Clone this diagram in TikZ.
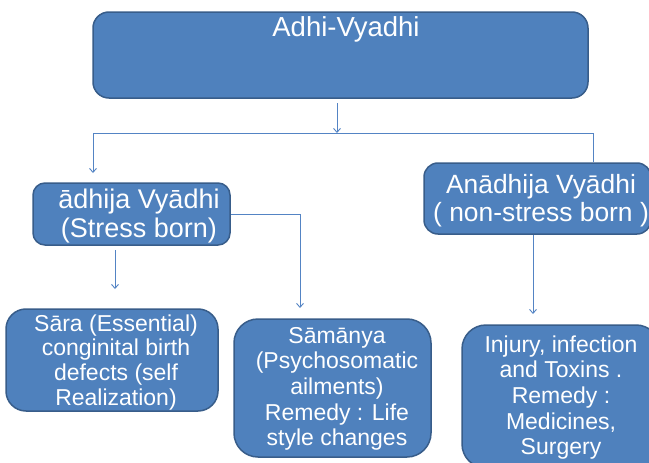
\documentclass[tikz,border=0pt]{standalone}
\usepackage{fontspec}
\setmainfont{Liberation Sans}
\usetikzlibrary{arrows.meta}
\definecolor{boxfill}{RGB}{79,129,189}
\definecolor{boxdraw}{RGB}{56,93,138}
\definecolor{linec}{RGB}{84,132,196}
\begin{document}
\begin{tikzpicture}[x=1pt,y=-1pt,
  box/.style={draw=boxdraw, line width=1.5pt, fill=boxfill, inner sep=0pt},
  txt/.style={text=white, align=center, inner sep=0pt, anchor=north},
  conn/.style={draw=linec, line width=0.9pt},
  arr/.style={conn, -{Straight Barb[length=4pt,width=7pt]}}]
\clip (0,0) rectangle (649,463);
\fill[white] (0,0) rectangle (649,463);
% boxes
\node[box, rounded corners=16pt, minimum width=495pt, minimum height=86pt] (top) at (340.5,55) {};
\node[box, rounded corners=12pt, minimum width=197pt, minimum height=62pt] (adh) at (131.5,214) {};
\node[box, rounded corners=14pt, minimum width=227pt, minimum height=71pt] (anadh) at (537.5,198.5) {};
\node[box, rounded corners=20pt, minimum width=212pt, minimum height=102pt] (sara) at (112,360) {};
\node[box, rounded corners=24pt, minimum width=197pt, minimum height=138pt] (samanya) at (332.5,388) {};
\node[box, rounded corners=24pt, minimum width=198pt, minimum height=143pt] (injury) at (561,396.5) {};
% texts
\node[txt, anchor=base, font=\fontsize{27.5}{30}\selectfont] (toptxt) at (346,37) {Adhi-Vyadhi};
\node[txt, font=\fontsize{27}{29}\selectfont] (adhtxt) at (139,187.7) {\strut ādhija Vyādhi\\\strut (Stress born)};
\node[txt, font=\fontsize{26.4}{28}\selectfont] (anadhtxt) at (541,173.4) {\strut Anādhija Vyādhi\\\strut ( non-stress born )};
\node[txt, font=\fontsize{23}{24.7}\selectfont] (saratxt) at (116,313.7) {\strut Sāra (Essential)\\\strut conginital birth\\\strut defects (self\\\strut Realization)};
\node[txt, font=\fontsize{23}{25.6}\selectfont] (samanyatxt) at (337,325.1) {\strut Sāmānya\\\strut (Psychosomatic\\\strut ailments)\\\strut Remedy : Life\\\strut style changes};
\node[txt, font=\fontsize{23}{25.7}\selectfont] (injurytxt) at (561,334) {\strut Injury, infection\\\strut and Toxins .\\\strut Remedy :\\\strut Medicines,\\\strut Surgery};
% connector points
\coordinate (t1) at (337,103);
\coordinate (j) at (337,133);
\coordinate (jl) at (93,133);
\coordinate (jr) at (593,133);
\coordinate (a1) at (93,173);
\coordinate (b1) at (115,250);
\coordinate (b2) at (115,289);
\coordinate (c1) at (300,214);
\coordinate (c2) at (300,308);
\coordinate (d2) at (533,314);
% connectors
\draw[arr] (t1) -- (j);
\draw[conn] (jl) -- (jr) -- (jr |- anadh.north);
\draw[arr] (jl) -- (a1);
\draw[arr] (b1) -- (b2);
\draw[arr] (adh.east) -- (c1) -- (c2);
\draw[arr] (anadh.south -| d2) -- (d2);
\end{tikzpicture}
\end{document}
